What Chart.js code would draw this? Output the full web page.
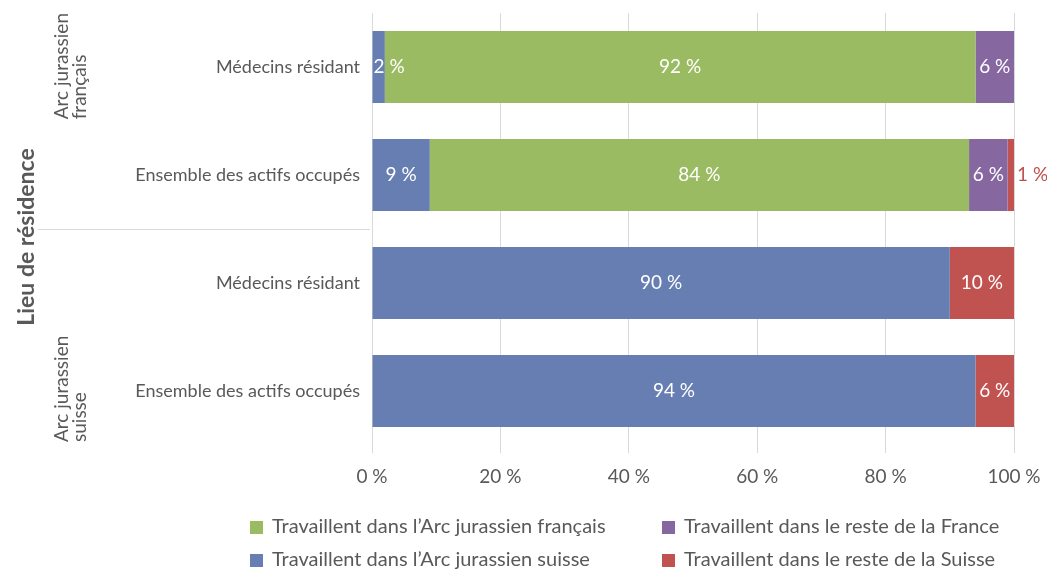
<!DOCTYPE html>
<html>
<head>
<meta charset="utf-8">
<script src="https://cdn.jsdelivr.net/npm/chart.js@4/dist/chart.umd.min.js"></script>
<style>
  html, body { margin: 0; padding: 0; background: #fff; }
  #wrap { position: relative; width: 1047px; height: 570px; }
  canvas { position: absolute; left: 0; top: 0; }
  .leg { position: absolute; font-family: Lato, "Open Sans", sans-serif; font-size: 20px; color: #595959; white-space: nowrap; line-height: 22px; }
  .leg i { display: inline-block; width: 13px; height: 13px; margin-right: 9px; vertical-align: -1px; }
</style>
</head>
<body>
<div id="wrap">
  <canvas id="c" width="1047" height="570"></canvas>
  <div class="leg" style="left:250px; top:514px;"><i style="background:#9bbb62"></i>Travaillent dans l’Arc jurassien français</div>
  <div class="leg" style="left:662px; top:514px;"><i style="background:#8667a0"></i>Travaillent dans le reste de la France</div>
  <div class="leg" style="left:250px; top:547px;"><i style="background:#667eb1"></i>Travaillent dans l’Arc jurassien suisse</div>
  <div class="leg" style="left:662px; top:547px;"><i style="background:#c0534f"></i>Travaillent dans le reste de la Suisse</div>
</div>
<script>
// ---- data ----
const categories = ['Médecins résidant', 'Ensemble des actifs occupés', 'Médecins résidant', 'Ensemble des actifs occupés'];
const groupLabels = [['Arc jurassien', 'français'], ['Arc jurassien', 'suisse']];
const axisTitle = 'Lieu de résidence';
const arcSuisse   = [2, 9, 90, 94];
const arcFrancais = [92, 84, null, null];
const resteFrance = [6, 6, null, null];
const resteSuisse = [null, 1, 10, 6];
const seriesNames = ['Travaillent dans l’Arc jurassien suisse', 'Travaillent dans l’Arc jurassien français', 'Travaillent dans le reste de la France', 'Travaillent dans le reste de la Suisse'];
const xTicks = [0, 20, 40, 60, 80, 100];

const FONT = 'Lato, "Open Sans", sans-serif';
const GRAY = '#595959';

const labelPlugin = {
  id: 'barLabels',
  afterDatasetsDraw(chart) {
    const ctx = chart.ctx;
    ctx.save();
    ctx.font = '19px ' + FONT;
    ctx.textBaseline = 'middle';
    chart.data.datasets.forEach((ds, di) => {
      const meta = chart.getDatasetMeta(di);
      meta.data.forEach((el, i) => {
        const v = ds.data[i];
        if (v === null || v === undefined) return;
        const txt = v + ' %';
        const w = ctx.measureText(txt).width;
        const left = Math.min(el.x, el.base), right = Math.max(el.x, el.base);
        const bw = right - left;
        if (bw < w && di === 3) {
          ctx.fillStyle = '#c0504d';
          ctx.textAlign = 'left';
          ctx.fillText(txt, right + 3, el.y);
        } else if (bw < w) {
          ctx.fillStyle = '#ffffff';
          ctx.textAlign = 'left';
          ctx.fillText(txt, left + 1, el.y);
        } else {
          ctx.fillStyle = '#ffffff';
          ctx.textAlign = 'center';
          ctx.fillText(txt, (left + right) / 2, el.y);
        }
      });
    });
    ctx.restore();
  },
  afterDraw(chart) {
    const ctx = chart.ctx;
    const ys = chart.scales.y;
    const area = chart.chartArea;
    const sep = (ys.getPixelForValue(1) + ys.getPixelForValue(2)) / 2;
    ctx.save();
    ctx.strokeStyle = '#d9d9d9';
    ctx.lineWidth = 1;
    ctx.beginPath();
    ctx.moveTo(38, Math.round(sep) + 0.5);
    ctx.lineTo(370, Math.round(sep) + 0.5);
    ctx.stroke();
    ctx.font = '19px ' + FONT;
    ctx.fillStyle = GRAY;
    ctx.textBaseline = 'middle';
    ctx.textAlign = 'left';
    const lineX = [62, 80];
    const g0 = groupLabels[0];
    const maxW0 = Math.max(...g0.map(t => ctx.measureText(t).width));
    const start0 = area.top + maxW0;
    g0.forEach((t, k) => {
      ctx.save();
      ctx.translate(lineX[k], start0);
      ctx.rotate(-Math.PI / 2);
      ctx.fillText(t, 0, 0);
      ctx.restore();
    });
    const g1 = groupLabels[1];
    const start1 = area.bottom - 3;
    g1.forEach((t, k) => {
      ctx.save();
      ctx.translate(lineX[k], start1);
      ctx.rotate(-Math.PI / 2);
      ctx.fillText(t, 0, 0);
      ctx.restore();
    });
    ctx.font = 'bold 23px ' + FONT;
    ctx.fillStyle = GRAY;
    ctx.textAlign = 'center';
    ctx.save();
    ctx.translate(27, 237);
    ctx.rotate(-Math.PI / 2);
    ctx.fillText(axisTitle, 0, 0);
    ctx.restore();
    ctx.restore();
  }
};

new Chart(document.getElementById('c'), {
  type: 'bar',
  data: {
    labels: categories,
    datasets: [
      { label: seriesNames[0], data: arcSuisse,   backgroundColor: '#667eb1' },
      { label: seriesNames[1], data: arcFrancais, backgroundColor: '#9bbb62' },
      { label: seriesNames[2], data: resteFrance, backgroundColor: '#8667a0' },
      { label: seriesNames[3], data: resteSuisse, backgroundColor: '#c0534f' }
    ]
  },
  options: {
    indexAxis: 'y',
    responsive: false,
    animation: false,
    devicePixelRatio: 1,
    layout: { padding: { top: 13, right: 33, left: 0, bottom: 0 } },
    datasets: { bar: { categoryPercentage: 1, barPercentage: 0.667, borderWidth: 0 } },
    plugins: { legend: { display: false }, tooltip: { enabled: false } },
    scales: {
      x: {
        stacked: true,
        min: 0, max: 100,
        afterBuildTicks: (s) => { s.ticks = xTicks.map(v => ({ value: v })); },
        afterFit: (s) => { s.height = 125; s.paddingLeft = 0; s.paddingRight = 0; s.paddingTop = 0; s.paddingBottom = 0; },
        grid: { color: '#d9d9d9', lineWidth: 1, tickLength: 8, drawTicks: true },
        border: { display: false },
        ticks: { color: GRAY, font: { family: FONT, size: 19 }, padding: 12, callback: (v) => v + ' %' }
      },
      y: {
        stacked: true,
        afterFit: (s) => { s.width = 372; s.paddingTop = 0; s.paddingBottom = 0; s.paddingLeft = 0; s.paddingRight = 0; },
        grid: { display: false, drawTicks: false },
        border: { display: false },
        ticks: { color: GRAY, font: { family: FONT, size: 18 }, padding: 12 }
      }
    }
  },
  plugins: [labelPlugin]
});
</script>
</body>
</html>
